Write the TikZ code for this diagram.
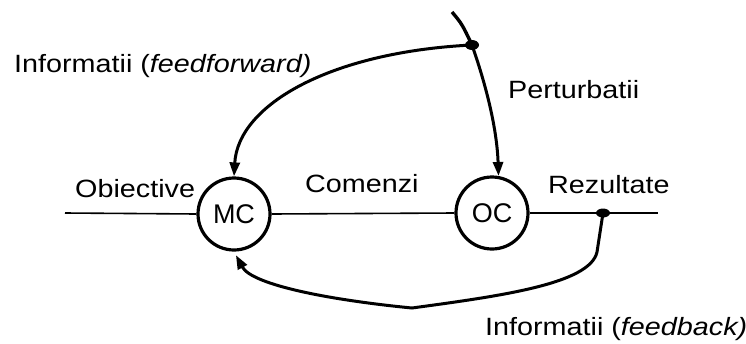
\documentclass[tikz,border=0pt]{standalone}
\usepackage{fontspec}
\setmainfont{Liberation Sans}[FakeStretch=1.15]
\newfontfamily\blockfont{Liberation Sans}
\usetikzlibrary{arrows.meta}
\begin{document}
\begin{tikzpicture}[x=1pt,y=-1pt,
  lbl/.style={anchor=base west,inner sep=0pt,font=\fontsize{25}{30}\selectfont},
  block/.style={circle,draw,line width=3.2pt,minimum size=72pt,inner sep=0pt,
    font=\blockfont\fontsize{27}{30}\selectfont},
  signal/.style={line width=1.6pt},
  flow/.style={line width=3pt,-{Triangle[length=14pt,width=10pt]}},
  junction/.style={fill=black}]
\useasboundingbox (0,0) rectangle (746,343);

% blocks
\node[block] (MC) at (234,214) {MC};
\node[block] (OC) at (492,213) {OC};

% main signal line
\coordinate (in) at (65,213);
\coordinate (out) at (658,213);
\coordinate (fb) at (603,213);
\draw[signal] (in) -- (MC.west);
\draw[signal] (MC.east) -- (OC.west);
\draw[signal] (OC.east) -- (out);

% disturbance with its branch point
\coordinate (ptop) at (452,12);
\coordinate (pd) at (472,45);
\draw[line width=3.4pt] (ptop) .. controls (462,24) .. (pd);
\draw[flow] (pd) .. controls (487,88) and (497,130) .. (OC.80);
\draw[flow] (pd) .. controls (330,52) and (238,105) .. (MC.north);

% feedback path
\coordinate (fk) at (597,252);
\coordinate (low) at (412,308);
\draw[flow,shorten >=4pt] (fb) -- (fk) .. controls (590,284) and (500,296) .. (low)
  .. controls (330,300) and (252,285) .. (MC.south);

% branch points
\fill[junction] (pd) ellipse [x radius=7pt,y radius=5pt];
\fill[junction] (fb) ellipse [x radius=7pt,y radius=4.5pt];

% labels
\node[lbl] (tff) at (14,72) {Informatii (\textit{feedforward)}};
\node[lbl] (tpert) at (508,98) {Perturbatii};
\node[lbl] (tobj) at (75,197) {Obiective};
\node[lbl] (tcom) at (305,192) {Comenzi};
\node[lbl] (trez) at (548,193) {Rezultate};
\node[lbl] (tfb) at (485,335) {Informatii (\textit{feedback)}};
\end{tikzpicture}
\end{document}
